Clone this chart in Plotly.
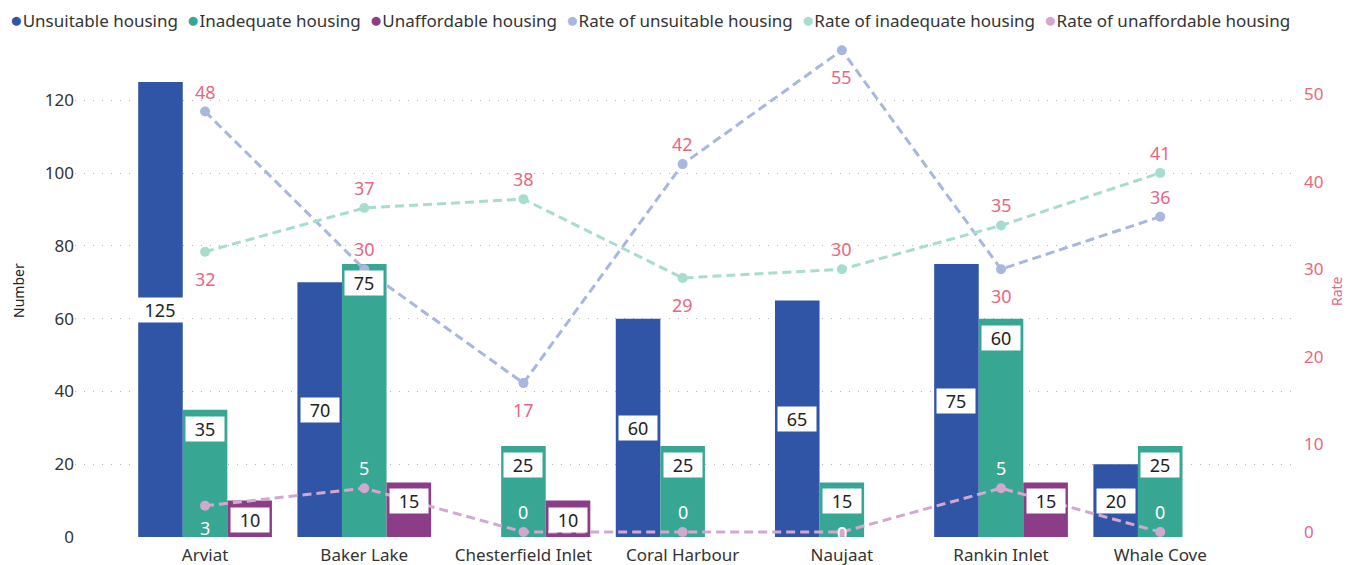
import plotly.graph_objects as go

# Communities and housing indicators
communities = ["Arviat", "Baker Lake", "Chesterfield Inlet", "Coral Harbour",
               "Naujaat", "Rankin Inlet", "Whale Cove"]
unsuitable = [125, 70, None, 60, 65, 75, 20]
inadequate = [35, 75, 25, 25, 15, 60, 25]
unaffordable = [10, 15, 10, None, None, 15, None]
rate_unsuitable = [48, 30, 17, 42, 55, 30, 36]
rate_inadequate = [32, 37, 38, 29, 30, 35, 41]
rate_unaffordable = [3, 5, 0, 0, 0, 5, 0]

# label placement for the rate lines
pos_unsuitable = ["above", "above", "below", "above", "below", "below", "above"]
pos_inadequate = ["below", "above", "above", "below", "above", "above", "above"]
pos_unaffordable = ["under", "above", "above", "above", "on", "above", "above"]
LABEL_SHIFT = {"above": 20, "below": -27, "under": -22, "on": -1}

FONT = "Segoe UI, Noto Sans, sans-serif"
C_UNS, C_INA, C_UNA = "#3155a6", "#37a794", "#8b3d88"
C_RUNS, C_RINA, C_RUNA = "#a7b7dd", "#a6ddcf", "#d3a8cf"
PINK = "#e8677f"
GRID_DASH = "1px,8px"

idx = list(range(len(communities)))
BW = 0.28
offsets = [-BW, 0.0, BW]

fig = go.Figure()

bar_series = [("Unsuitable housing", unsuitable, C_UNS),
              ("Inadequate housing", inadequate, C_INA),
              ("Unaffordable housing", unaffordable, C_UNA)]
for (name, vals, col), off in zip(bar_series, offsets):
    fig.add_trace(go.Bar(
        x=idx, y=vals, name=name, width=BW, offset=off - BW / 2,
        marker=dict(color=col, line=dict(width=0)), showlegend=False,
        yaxis="y"))

line_series = [("Rate of unsuitable housing", rate_unsuitable, C_RUNS, pos_unsuitable, PINK),
               ("Rate of inadequate housing", rate_inadequate, C_RINA, pos_inadequate, PINK),
               ("Rate of unaffordable housing", rate_unaffordable, C_RUNA,
                pos_unaffordable, "white")]
for name, vals, col, pos, tcol in line_series:
    fig.add_trace(go.Scatter(
        x=idx, y=vals, name=name, mode="lines+markers", yaxis="y2",
        line=dict(color=col, width=3, dash="9px,5px"),
        marker=dict(color=col, size=10),
        showlegend=False, cliponaxis=False))

annotations = []

# value labels for the rate lines
for name, vals, col, pos, tcol in line_series:
    for i, v, p in zip(idx, vals, pos):
        annotations.append(dict(
            x=i, y=v, xref="x", yref="y2", text=str(v), showarrow=False,
            yanchor="middle", yshift=LABEL_SHIFT[p],
            font=dict(size=18, color=tcol, family=FONT)))

# single-row legend with round markers
legend_items = [(name, col) for name, _, col in bar_series] + \
               [(name, col) for name, _, col, _, _ in line_series]
legend_text = "  ".join(
    f"<span style='color:{col};font-size:21px'>●</span>{name}"
    for name, col in legend_items)
annotations.append(dict(
    x=(8 - 75) / 1218, y=(565 - 19 - 28) / 492, xref="paper", yref="paper",
    text=legend_text, showarrow=False, xanchor="left", yanchor="middle",
    font=dict(size=17, color="#333333", family=FONT)))

# axis titles
annotations.append(dict(
    x=(18 - 75) / 1218, y=0.5, xref="paper", yref="paper", text="Number",
    textangle=-90, showarrow=False, xanchor="center", yanchor="middle",
    font=dict(size=14, color="#222222", family=FONT)))
annotations.append(dict(
    x=(1336 - 75) / 1218, y=0.5, xref="paper", yref="paper", text="Rate",
    textangle=-90, showarrow=False, xanchor="center", yanchor="middle",
    font=dict(size=14, color=PINK, family=FONT)))

# boxed value labels on the bars
for (name, vals, col), off in zip(bar_series, offsets):
    for i, v in zip(idx, vals):
        if v is None:
            continue
        if name == "Unsuitable housing":
            y, anchor, shift = v / 2, "middle", 0
        else:
            y, anchor, shift = v, "top", -6
        annotations.append(dict(
            x=i + off, y=y, xref="x", yref="y", text=str(v), showarrow=False,
            yanchor=anchor, yshift=shift, bgcolor="white", borderpad=1,
            width=44 if v >= 100 else 36, height=22,
            font=dict(size=18, color="#222222", family=FONT)))

fig.update_layout(
    width=1347, height=565,
    margin=dict(l=75, r=54, t=45, b=28),
    plot_bgcolor="white", paper_bgcolor="white",
    font=dict(family=FONT, size=17, color="#333333"),
    barmode="overlay",
    showlegend=False,
    xaxis=dict(tickmode="array", tickvals=idx, ticktext=communities,
               range=[-0.817, 6.834], showgrid=False, zeroline=False,
               showline=False, ticks="", automargin=False, ticklabelstandoff=6,
               tickfont=dict(size=17, color="#333333")),
    yaxis=dict(range=[0, 135.2], tickvals=[0, 20, 40, 60, 80, 100, 120],
               showgrid=True, gridcolor="#b8b8b8", griddash=GRID_DASH, gridwidth=1,
               zeroline=False, showline=False, ticks="", automargin=False,
               tickfont=dict(size=17, color="#333333")),
    yaxis2=dict(range=[-0.57, 55.6], tickvals=[0, 10, 20, 30, 40, 50],
                overlaying="y", side="right", showgrid=False, zeroline=False,
                showline=False, ticks="", automargin=False, ticklabelstandoff=10,
                tickfont=dict(size=17, color=PINK)),
    annotations=annotations,
)

fig.write_html("out.html")
